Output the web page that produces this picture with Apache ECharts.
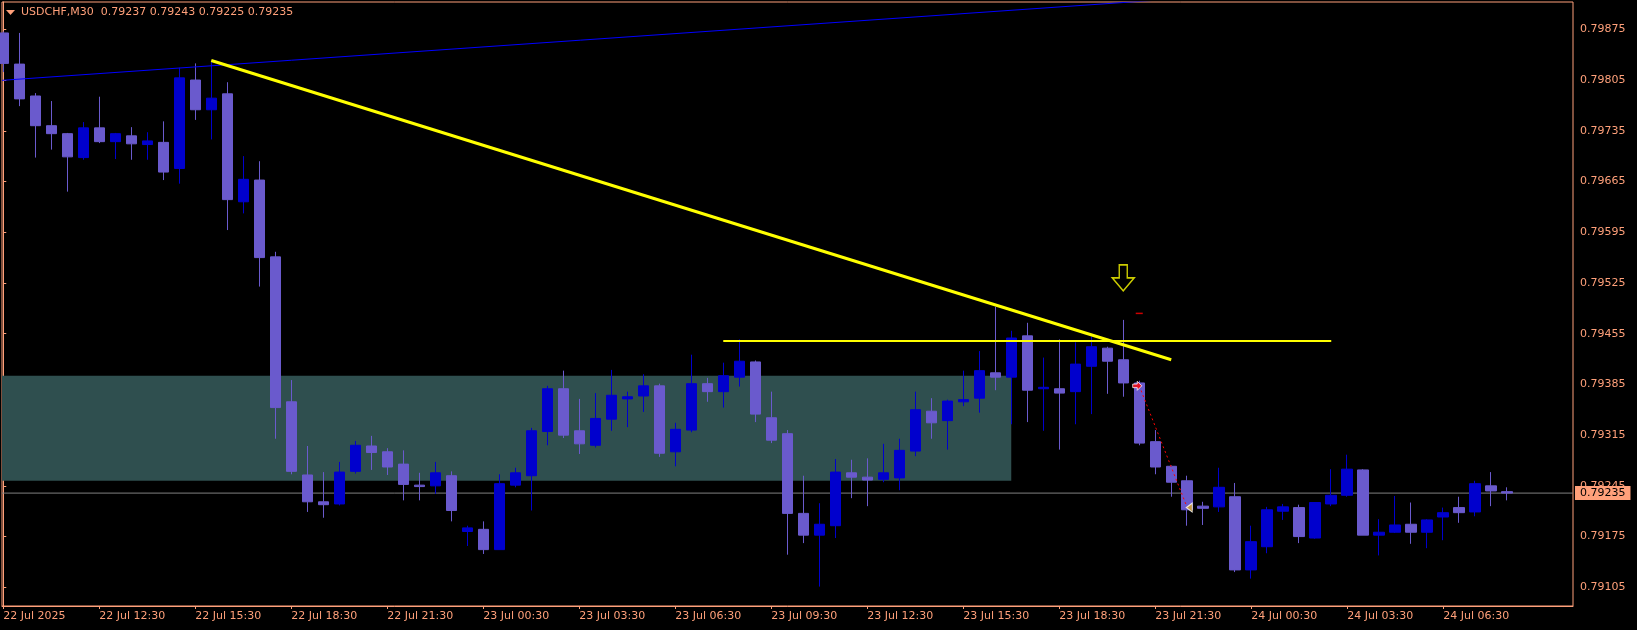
<!DOCTYPE html>
<html><head><meta charset="utf-8">
<script src="https://cdn.jsdelivr.net/npm/echarts@6.0.0/dist/echarts.min.js"></script>
<style>html,body{margin:0;padding:0;background:#000;}#c{width:1637px;height:630px;}</style>
</head><body><div id="c"></div>
<script>
const symbolName = 'USDCHF,M30';
const open = [0.79870,0.79827,0.79783,0.79742,0.79731,0.79698,0.79739,0.79720,0.79728,0.79716,
0.79719,0.79683,0.79805,0.79764,0.79786,0.79637,0.79667,0.79561,0.79361,0.79260,
0.79223,0.79220,0.79265,0.79300,0.79292,0.79275,0.79246,0.79245,0.79259,0.79182,
0.79185,0.79157,0.79246,0.79259,0.79320,0.79379,0.79321,0.79301,0.79337,0.79365,
0.79369,0.79383,0.79292,0.79322,0.79386,0.79375,0.79395,0.79416,0.79339,0.79317,
0.79207,0.79177,0.79190,0.79263,0.79257,0.79254,0.79256,0.79293,0.79348,0.79335,
0.79361,0.79366,0.79401,0.79395,0.79452,0.79379,0.79379,0.79375,0.79410,0.79435,
0.79419,0.79387,0.79306,0.79272,0.79252,0.79217,0.79216,0.79230,0.79129,0.79161,
0.79210,0.79215,0.79173,0.79220,0.79232,0.79267,0.79177,0.79181,0.79192,0.79181,
0.79202,0.79215,0.79209,0.79245,0.79237];
const high = [0.79872,0.79870,0.79787,0.79776,0.79732,0.79747,0.79782,0.79732,0.79740,0.79733,
0.79748,0.79822,0.79828,0.79832,0.79802,0.79700,0.79693,0.79568,0.79391,0.79300,
0.79264,0.79278,0.79307,0.79314,0.79297,0.79294,0.79263,0.79278,0.79265,0.79190,
0.79196,0.79261,0.79270,0.79325,0.79383,0.79404,0.79365,0.79373,0.79405,0.79375,
0.79399,0.79386,0.79332,0.79426,0.79394,0.79415,0.79447,0.79418,0.79375,0.79322,
0.79259,0.79221,0.79282,0.79281,0.79283,0.79303,0.79310,0.79375,0.79366,0.79364,
0.79404,0.79431,0.79492,0.79459,0.79470,0.79422,0.79447,0.79443,0.79451,0.79437,
0.79474,0.79390,0.79322,0.79273,0.79259,0.79223,0.79270,0.79249,0.79190,0.79216,
0.79220,0.79219,0.79222,0.79268,0.79288,0.79268,0.79199,0.79231,0.79222,0.79199,
0.79215,0.79230,0.79252,0.79264,0.79243];
const low = [0.79816,0.79769,0.79698,0.79709,0.79651,0.79695,0.79718,0.79696,0.79695,0.79695,
0.79667,0.79662,0.79750,0.79723,0.79598,0.79621,0.79520,0.79310,0.79261,0.79209,
0.79201,0.79218,0.79262,0.79267,0.79260,0.79225,0.79225,0.79234,0.79196,0.79162,
0.79151,0.79157,0.79243,0.79211,0.79301,0.79311,0.79289,0.79298,0.79321,0.79326,
0.79347,0.79285,0.79272,0.79319,0.79361,0.79353,0.79382,0.79333,0.79304,0.79150,
0.79166,0.79106,0.79173,0.79228,0.79217,0.79250,0.79239,0.79286,0.79310,0.79295,
0.79355,0.79346,0.79377,0.79330,0.79333,0.79321,0.79295,0.79330,0.79344,0.79372,
0.79368,0.79301,0.79261,0.79230,0.79190,0.79191,0.79209,0.79126,0.79117,0.79152,
0.79198,0.79166,0.79172,0.79217,0.79230,0.79177,0.79149,0.79180,0.79165,0.79159,
0.79170,0.79194,0.79203,0.79217,0.79225];
const close = [0.79828,0.79779,0.79742,0.79731,0.79699,0.79739,0.79720,0.79731,0.79717,0.79721,
0.79678,0.79808,0.79764,0.79780,0.79640,0.79668,0.79560,0.79353,0.79265,0.79223,
0.79219,0.79264,0.79301,0.79291,0.79271,0.79247,0.79244,0.79263,0.79211,0.79187,
0.79157,0.79248,0.79263,0.79321,0.79379,0.79315,0.79303,0.79338,0.79370,0.79368,
0.79383,0.79290,0.79323,0.79386,0.79375,0.79397,0.79417,0.79344,0.79308,0.79207,
0.79177,0.79192,0.79264,0.79257,0.79253,0.79263,0.79294,0.79350,0.79332,0.79362,
0.79364,0.79404,0.79395,0.79449,0.79377,0.79381,0.79373,0.79413,0.79437,0.79417,
0.79387,0.79304,0.79271,0.79250,0.79212,0.79214,0.79243,0.79129,0.79168,0.79212,
0.79216,0.79175,0.79222,0.79232,0.79268,0.79177,0.79181,0.79191,0.79181,0.79198,
0.79208,0.79208,0.79248,0.79238,0.79235];
const xTickIndex = [0,6,12,18,24,30,36,42,48,54,60,66,72,78,84,90];
const xTickLabels = ['22 Jul 2025','22 Jul 12:30','22 Jul 15:30','22 Jul 18:30','22 Jul 21:30',
'23 Jul 00:30','23 Jul 03:30','23 Jul 06:30','23 Jul 09:30','23 Jul 12:30','23 Jul 15:30',
'23 Jul 18:30','23 Jul 21:30','24 Jul 00:30','24 Jul 03:30','24 Jul 06:30'];
const yTicks = [0.79105,0.79175,0.79245,0.79315,0.79385,0.79455,0.79525,0.79595,0.79665,0.79735,0.79805,0.79875];
const xRange = [-0.08, 98.11];
const yRange = [0.790792, 0.799127];
const zone = [[-0.08, 0.79397],[63, 0.79252]];
const blueLine = [[-0.08, 0.798046],[76, 0.799212]];
const trendLine = [[13, 0.79832],[73, 0.79419]];
const levelLine = [[45, 0.79445],[83, 0.79445]];
const tradeLine = [[71, 0.79383],[74, 0.79215]];
const signalArrow = [[70, 0.79532]];
const stopMark = [[71, 0.79483]];

const SAL = '#FFA07A';
const FONT = 'DejaVu Sans';
const last = close.length - 1;
const candles = open.map((o,i)=>[i, o, close[i], low[i], high[i]]);
const priceLine = [[xRange[0], close[last]], [xRange[1], close[last]]];

const chart = echarts.init(document.getElementById('c'), null, {renderer:'canvas'});
chart.setOption({
  animation:false,
  backgroundColor:'#000',
  title:{
    text: symbolName + '  ' + [open[last],high[last],low[last],close[last]].map(v=>v.toFixed(5)).join(' '),
    left:21, top:7, padding:0,
    textStyle:{color:SAL, fontSize:11, fontWeight:'normal', fontFamily:FONT}
  },
  graphic:[{type:'polygon', shape:{points:[[6,10],[15,10],[10.5,15]]}, style:{fill:SAL}, silent:true}],
  grid:{left:2, top:2, right:64, bottom:24, show:true, borderColor:SAL, borderWidth:1, backgroundColor:'#000', containLabel:false, outerBoundsMode:'none'},
  xAxis:{
    type:'value', min:xRange[0], max:xRange[1],
    splitLine:{show:false},
    axisLine:{show:true, lineStyle:{color:SAL, width:1}},
    axisTick:{show:true, inside:false, length:3, lineStyle:{color:SAL}, customValues:xTickIndex},
    axisLabel:{show:true, customValues:xTickIndex, color:SAL, fontSize:11, fontFamily:FONT, align:'left', margin:5,
      formatter:v=>xTickLabels[xTickIndex.indexOf(Math.round(v))] || ''}
  },
  yAxis:{
    type:'value', position:'right', min:yRange[0], max:yRange[1], scale:true,
    splitLine:{show:false},
    axisLine:{show:true, lineStyle:{color:SAL, width:1}},
    axisTick:{show:true, inside:false, length:3, lineStyle:{color:SAL}, customValues:yTicks},
    axisLabel:{show:true, customValues:yTicks, color:SAL, fontSize:11, fontFamily:FONT, margin:7,
      formatter:v=>v.toFixed(5)}
  },
  series:[
    {type:'line', data:[], z:1, silent:true,
      markArea:{silent:true, itemStyle:{color:'#2F4F4F'}, data:[[{coord:zone[0]},{coord:zone[1]}]]}
    },
    {type:'line', z:2, data:priceLine, symbol:'none', silent:true, clip:false,
      lineStyle:{color:'#808080', width:1},
      endLabel:{show:true, formatter:()=>close[last].toFixed(5), distance:2,
        backgroundColor:SAL, color:'#000', fontFamily:FONT, fontSize:11, lineHeight:12, padding:[1,5,1,5]}
    },
    {type:'candlestick', z:3, data:candles, encode:{x:0, y:[1,2,3,4]}, barWidth:11, silent:true,
      itemStyle:{color:'#0000CD', color0:'#6A5ACD', borderColor:'#0000CD', borderColor0:'#6A5ACD', borderColorDoji:'#6A5ACD', borderWidth:1}
    },
    {type:'line', z:4, data:blueLine, symbol:'none', silent:true, clip:true, lineStyle:{color:'#0000FF', width:1}},
    {type:'line', z:5, data:trendLine, symbol:'none', silent:true, lineStyle:{color:'#FFFF00', width:3}},
    {type:'line', z:5, data:levelLine, symbol:'none', silent:true, lineStyle:{color:'#FFFF00', width:2}},
    {type:'line', z:5, data:tradeLine, symbol:'none', silent:true, lineStyle:{color:'#FF0000', width:1, type:[2,3]}},
    {type:'scatter', z:6, data:signalArrow, silent:true, symbol:'path://M7,0 L15,0 L15,13 L22,13 L11,26 L0,13 L7,13 Z', symbolSize:[22,26],
      itemStyle:{color:'rgba(0,0,0,0)', borderColor:'#FFFF00', borderWidth:1.5}},
    {type:'scatter', z:6, data:stopMark, silent:true, symbol:'rect', symbolSize:[7,1.5], itemStyle:{color:'#FF0000'}},
    {type:'scatter', z:6, data:[tradeLine[0]], silent:true, symbol:'path://M0,3 L5,3 L5,0 L10,5 L5,10 L5,7 L0,7 Z', symbolSize:[9,9], symbolOffset:[-2,0],
      itemStyle:{color:'#FF0000', borderColor:'#FFFFFF', borderWidth:1}},
    {type:'scatter', z:6, data:[tradeLine[1]], silent:true, symbol:'path://M0,5 L8,0 L8,10 Z', symbolSize:[6,9], symbolOffset:[2,0],
      itemStyle:{color:'#DAA520', borderColor:'#FFFFFF', borderWidth:1}}
  ]
});
</script></body></html>
